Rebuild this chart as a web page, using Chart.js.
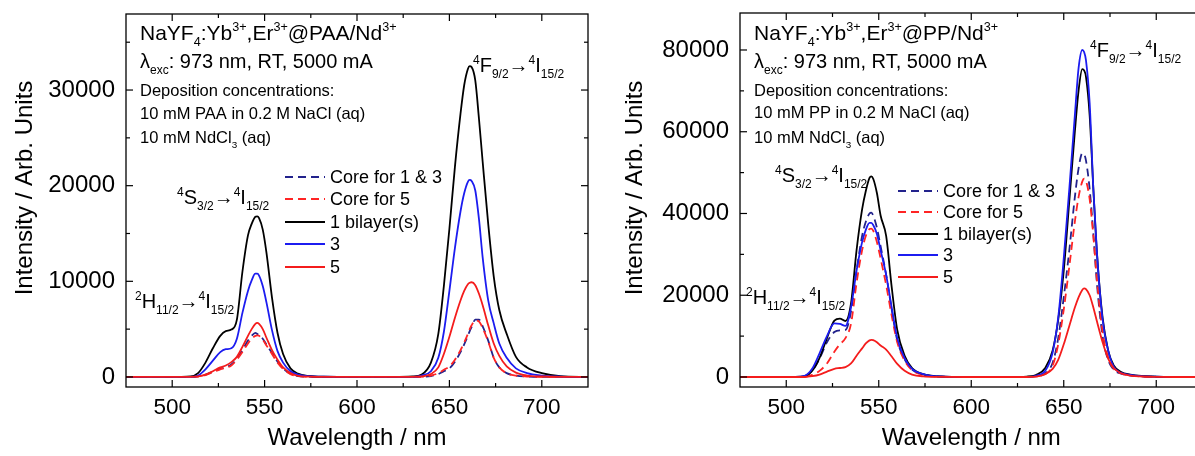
<!DOCTYPE html>
<html><head><meta charset="utf-8">
<script src="https://cdn.jsdelivr.net/npm/chart.js@4.4.1/dist/chart.umd.min.js"></script>
<style>
html,body{margin:0;padding:0;background:#fff;overflow:hidden;width:1195px;height:456px;position:relative;}
#wrapL{position:absolute;left:0;top:0;width:600px;height:456px;}
#wrapR{position:absolute;left:600px;top:0;width:615px;height:456px;}
</style></head><body>
<div id="wrapL"><canvas id="cL" width="600" height="456"></canvas></div>
<div id="wrapR"><canvas id="cR" width="615" height="456"></canvas></div>
<script>
// ---------- DATA ----------
const wavelengths = [475,490,505,510,514,518,522,526,529,532, 535,538,541,543,545,546,547,549,551,554, 557,560,564,568,574,582,600,620,630,635, 640,644,647,650,653,656,658,660,661,662, 664,666,668,671,674,677,681,686,692,700, 710,725];

const seriesLabels = ['Core for 1 & 3','Core for 5','1 bilayer(s)','3','5'];

// Left panel: @PAA/Nd3+
const paaCore13 = [0,0,0,0,60,250,550,850,1000,1300, 1900,2800,3800,4300,4600,4500,4400,4000,3400,2500, 1600,900,350,100,30,0,0,0,0,20, 100,300,600,900,1600,2600,3400,4300,4800,5200, 6000,6000,5300,3800,2000,1000,400,150,50,0, 0,0];
const paaCore5  = [0,0,0,0,40,200,500,800,950,1200, 1800,2600,3500,4000,4300,4350,4300,3900,3300,2400, 1500,850,300,90,20,0,0,0,0,30, 150,400,750,1100,1800,2800,3600,4500,5000,5400, 5900,5800,5100,3700,2000,1000,400,150,50,0, 0,0];
const paaBil1   = [0,0,0,50,400,1500,3000,4300,4800,4950, 6000,11000,14800,16000,16750,16800,16600,15400,13000,8300, 4600,2400,900,350,100,20,0,0,50,250, 1500,4500,9500,15500,22000,27500,30500,32200,32500,32400, 31000,27000,22500,16000,10500,7000,4500,2100,1000,400, 80,0];
const paaBil3   = [0,0,0,0,150,800,1700,2600,2900,3000, 4000,6700,9000,10100,10800,10800,10600,9500,7800,4900, 2700,1500,600,250,80,20,0,0,0,150, 600,2000,4700,9000,13500,17300,19200,20400,20600,20500, 19500,16500,12500,8000,5600,3500,2000,900,400,150, 40,0];
const paaBil5   = [0,0,0,0,50,250,600,1000,1200,1550, 2100,3150,4300,5000,5550,5650,5550,5000,4100,2800, 1800,1000,400,120,30,0,0,0,0,50, 300,1000,2400,4200,6200,8000,9000,9700,9850,9900, 9600,8700,7500,5400,3500,2200,1100,450,150,50, 0,0];

// Right panel: @PP/Nd3+
const ppCore13 = [0,0,0,200,1500,4500,8500,11000,11400,11500, 16000,26000,34500,38000,40000,40200,39500,36500,32000,25000, 16500,9000,4300,1800,600,120,0,0,0,200, 900,3500,9500,19500,31000,44000,51000,54700,54500,53000, 46000,35000,22500,10000,4200,1800,800,350,150,50, 0,0];
const ppCore5  = [0,0,0,50,500,1500,3300,6200,8000,9500, 13000,23000,31000,34500,36200,36300,35800,33000,29000,22500, 15000,8500,4000,1700,500,100,0,0,0,150, 700,2800,8000,16500,27000,38000,44000,47800,48500,48000, 43500,34500,23500,11000,4800,2000,850,350,150,50, 0,0];
const ppBil1   = [0,0,0,200,1500,4700,9500,13800,14300,13700, 18000,31000,41000,45500,48700,49100,48500,45000,39500,34500, 22000,11500,5200,2200,700,150,0,0,100,500, 2200,6500,14000,26000,43000,60000,70000,75300,75000,73500, 64000,46000,30000,14500,6500,2800,1200,600,250,100, 30,0];
const ppBil3   = [0,0,0,300,2000,5800,10000,13100,13000,12500, 17000,26000,33000,36000,37700,37700,37200,35000,31000,25000, 17000,9500,4600,2000,700,150,0,0,0,300, 1500,6000,14500,29000,46000,64000,75500,80000,79500,77500, 67000,46000,30000,14000,6500,2500,1000,500,200,80, 20,0];
const ppBil5   = [0,0,0,0,200,600,1300,2000,2200,2400, 3300,5200,7000,8200,8950,9100,9000,8500,7700,6700, 5000,3200,1500,600,150,30,0,0,0,100, 700,2000,4200,8000,12500,17000,19500,21300,21700,21500, 20000,17000,13500,8500,4500,2200,900,350,120,40, 0,0];

// Tick labels
const xTicks = [500,550,600,650,700];
const xMinorTicks = [525,575,625,675];
const yTicksPAA = [0,10000,20000,30000];
const yMinorPAA = [5000,15000,25000,35000];
const yTicksPP = [0,20000,40000,60000,80000];
const yMinorPP = [10000,30000,50000,70000];

// Texts
const xTitle = 'Wavelength / nm';
const yTitle = 'Intensity / Arb. Units';
const infoPAA = [
  [['NaYF',''],['4','sub'],[':Yb',''],['3+','sup'],[',Er',''],['3+','sup'],['@PAA/Nd',''],['3+','sup']],
  [['λ',''],['exc','sub'],[': 973 nm, RT, 5000 mA','']],
  [['Deposition concentrations:','']],
  [['10 mM PAA in 0.2 M NaCl (aq)','']],
  [['10 mM NdCl',''],['3','sub'],[' (aq)','']]
];
const infoPP = [
  [['NaYF',''],['4','sub'],[':Yb',''],['3+','sup'],[',Er',''],['3+','sup'],['@PP/Nd',''],['3+','sup']],
  [['λ',''],['exc','sub'],[': 973 nm, RT, 5000 mA','']],
  [['Deposition concentrations:','']],
  [['10 mM PP in 0.2 M NaCl (aq)','']],
  [['10 mM NdCl',''],['3','sub'],[' (aq)','']]
];
const labelF = [['4','sup'],['F',''],['9/2','sub'],['→',''],['4','sup'],['I',''],['15/2','sub']];
const labelS = [['4','sup'],['S',''],['3/2','sub'],['→',''],['4','sup'],['I',''],['15/2','sub']];
const labelH = [['2','sup'],['H',''],['11/2','sub'],['→',''],['4','sup'],['I',''],['15/2','sub']];

// ---------- RENDER ----------
const FAM = '"Liberation Sans", Arial, "DejaVu Sans", sans-serif';
Chart.defaults.font.family = FAM;
Chart.defaults.color = '#000';

const styles = [
  {color:'#22228c', dash:[8,5], order:4},
  {color:'#ff2424', dash:[8,5], order:3},
  {color:'#000000', dash:[], order:2},
  {color:'#1c1cf0', dash:[], order:1},
  {color:'#f41c1c', dash:[], order:0}
];

function drawRich(ctx, x, y, parts, size){
  ctx.textBaseline = 'alphabetic';
  ctx.textAlign = 'left';
  let cx = x;
  for (const [t, kind] of parts){
    let s = size, dy = 0;
    if (kind === 'sub'){ s = size*0.6; dy = size*0.28; }
    else if (kind === 'sup'){ s = size*0.6; dy = -size*0.42; }
    ctx.font = s + 'px ' + FAM;
    ctx.fillText(t, cx, y + dy);
    cx += ctx.measureText(t).width;
  }
}

const decorPlugin = {
  id: 'decor',
  afterDatasetsDraw(chart, args, o){
    const ctx = chart.ctx, ca = chart.chartArea;
    const xs = chart.scales.x, ys = chart.scales.y;
    ctx.save();
    ctx.strokeStyle = '#000'; ctx.lineWidth = 1.3;
    ctx.strokeRect(ca.left, ca.top, ca.right - ca.left, ca.bottom - ca.top);
    const seg = (x1,y1,x2,y2)=>{ctx.beginPath();ctx.moveTo(x1,y1);ctx.lineTo(x2,y2);ctx.stroke();};
    ctx.lineWidth = 1.2;
    const xt = (vals,len)=>vals.forEach(v=>{const p=xs.getPixelForValue(v); seg(p,ca.bottom,p,ca.bottom-len); seg(p,ca.top,p,ca.top+len);});
    const yt = (vals,len)=>vals.forEach(v=>{const p=ys.getPixelForValue(v); seg(ca.left,p,ca.left+len,p); seg(ca.right,p,ca.right-len,p);});
    xt(o.xMajor,7); xt(o.xMinor,4); yt(o.yMajor,7); yt(o.yMinor,4);
    ctx.fillStyle = '#000';
    // y title
    ctx.save();
    ctx.translate(o.yTitlePos[0], o.yTitlePos[1]);
    ctx.rotate(-Math.PI/2);
    ctx.font = '24px ' + FAM; ctx.textAlign='center'; ctx.textBaseline='middle';
    ctx.fillText(yTitle, 0, 0);
    ctx.restore();
    // info text
    o.info.forEach((line,i)=>drawRich(ctx, o.infoX, o.infoY[i], line, o.infoSize[i]));
    // peak labels
    o.peaks.forEach(p=>drawRich(ctx, p.x, p.y, p.parts, 20));
    // legend
    chart.data.datasets.forEach((ds,i)=>{
      const y = o.legY[i];
      ctx.strokeStyle = ds.borderColor; ctx.lineWidth = 2; ctx.setLineDash(ds.borderDash||[]);
      seg(o.legX[0], y, o.legX[1], y);
      ctx.setLineDash([]);
      ctx.fillStyle = '#000'; ctx.font = '18px ' + FAM; ctx.textBaseline='middle'; ctx.textAlign='left';
      ctx.fillText(ds.label, o.legX[2], y+1);
    });
    ctx.restore();
  }
};

function makeChart(id, series, yMin, yMax, yMajor, yMinor, yAxisW, padTop, padRight, decor){
  const datasets = series.map((arr,i)=>({
    label: seriesLabels[i],
    data: wavelengths.map((w,k)=>({x:w, y:arr[k]})),
    borderColor: styles[i].color,
    borderDash: styles[i].dash,
    borderWidth: 1.8,
    pointRadius: 0,
    fill: false,
    cubicInterpolationMode: 'monotone',
    order: styles[i].order
  }));
  return new Chart(document.getElementById(id), {
    type: 'line',
    data: {datasets},
    options: {
      responsive: false, animation: false, devicePixelRatio: 1,
      layout: {padding: {top: padTop, right: padRight, left: 0, bottom: 0}},
      plugins: {legend:{display:false}, tooltip:{enabled:false}, decor},
      scales: {
        x: {
          type: 'linear', min: 475, max: 725,
          afterBuildTicks: s => { s.ticks = xTicks.map(v=>({value:v})); },
          afterFit: s => { s.height = 69; s.paddingLeft = 0; s.paddingRight = 0; },
          ticks: {font:{size:22.5}, color:'#000', padding:7, maxRotation:0, autoSkip:false, callback: v=>String(v)},
          grid: {display:false, drawTicks:false},
          border: {display:false},
          title: {display:true, text:xTitle, font:{size:24}, color:'#000', padding:{top:0, bottom:3}}
        },
        y: {
          type: 'linear', min: yMin, max: yMax,
          afterBuildTicks: s => { s.ticks = yMajor.map(v=>({value:v})); },
          afterFit: s => { s.width = yAxisW; s.paddingTop = 0; s.paddingBottom = 0; },
          ticks: {font:{size:24}, color:'#000', padding:11, autoSkip:false, callback: v=>String(v)},
          grid: {display:false, drawTicks:false},
          border: {display:false}
        }
      }
    },
    plugins: [decorPlugin]
  });
}

makeChart('cL', [paaCore13, paaCore5, paaBil1, paaBil3, paaBil5], -1050, 37950, yTicksPAA, yMinorPAA, 126, 14, 12, {
  xMajor: xTicks, xMinor: xMinorTicks, yMajor: yTicksPAA, yMinor: yMinorPAA,
  yTitlePos: [25, 188],
  info: infoPAA, infoX: 140, infoY: [40, 68, 96, 119, 143], infoSize: [21, 20, 16.5, 16.5, 16.5],
  peaks: [{x:473, y:72, parts:labelF}, {x:177, y:204, parts:labelS}, {x:135, y:308, parts:labelH}],
  legX: [285, 325, 330], legY: [177, 199, 222, 244, 267]
});
makeChart('cR', [ppCore13, ppCore5, ppBil1, ppBil3, ppBil5], -2450, 89050, yTicksPP, yMinorPP, 140, 13, 12.5, {
  xMajor: xTicks, xMinor: xMinorTicks, yMajor: yTicksPP, yMinor: yMinorPP,
  yTitlePos: [35, 188],
  info: infoPP, infoX: 154, infoY: [40, 68, 96, 118, 143], infoSize: [21, 20, 16.5, 16.5, 16.5],
  peaks: [{x:490, y:57, parts:labelF}, {x:175, y:182, parts:labelS}, {x:146, y:304, parts:labelH}],
  legX: [298, 338, 343], legY: [191, 212, 234, 255, 277]
});
</script>
</body></html>
